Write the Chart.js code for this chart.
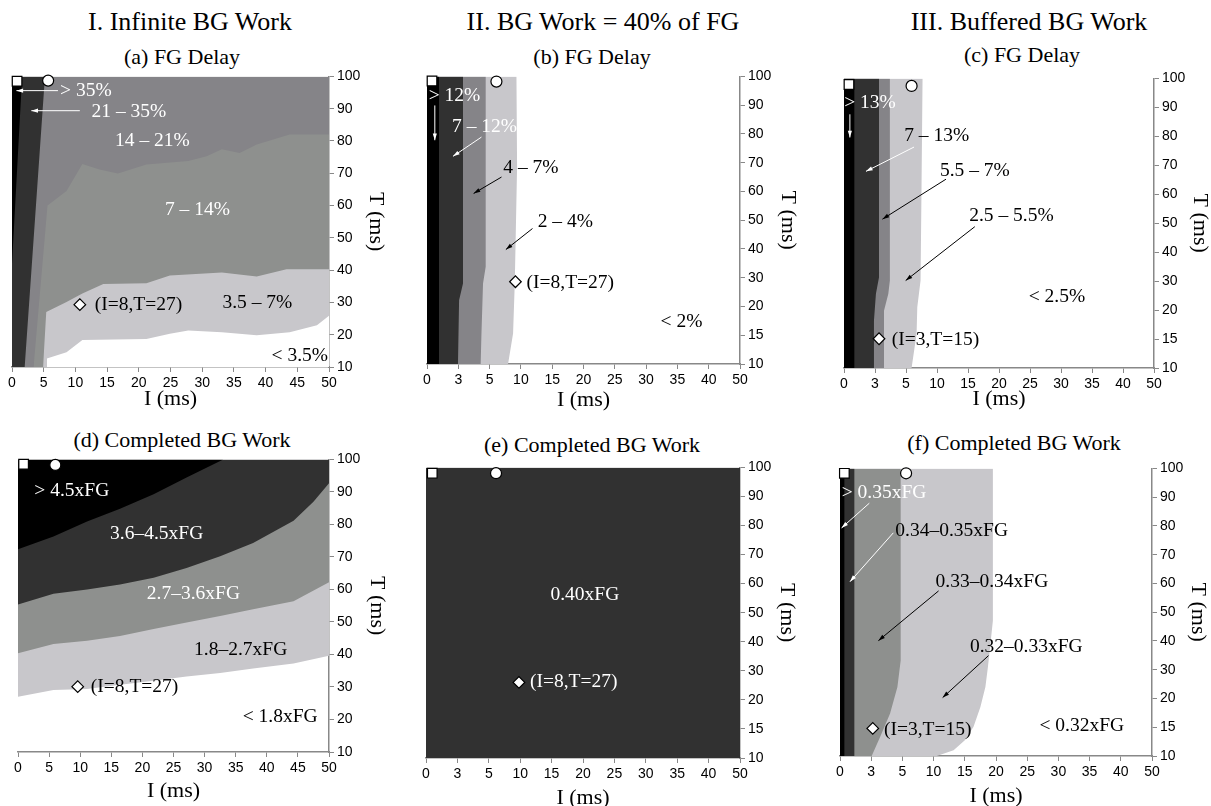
<!DOCTYPE html>
<html>
<head>
<meta charset="utf-8">
<script src="https://cdn.jsdelivr.net/npm/chart.js@4"></script>
<style>
body { margin: 0; width: 1211px; height: 806px; overflow: hidden; background: #fff; position: relative; font-family: "Liberation Serif", "Times New Roman", serif; }
.lbl { position: absolute; white-space: nowrap; transform: translate(-50%, -50%); line-height: 1; color: #000; }
.head { font-size: 26px; }
.sub { font-size: 22px; }
canvas { position: absolute; }
</style>
</head>
<body>
<div class="lbl head" style="left:190px;top:22px">I. Infinite BG Work</div>
<div class="lbl head" style="left:603px;top:22px">II. BG Work = 40% of FG</div>
<div class="lbl head" style="left:1029px;top:22px">III. Buffered BG Work</div>
<div class="lbl sub" style="left:182px;top:57px">(a) FG Delay</div>
<div class="lbl sub" style="left:592px;top:57px">(b) FG Delay</div>
<div class="lbl sub" style="left:1022px;top:55px">(c) FG Delay</div>
<div class="lbl sub" style="left:182px;top:440px">(d) Completed BG Work</div>
<div class="lbl sub" style="left:592px;top:445px">(e) Completed BG Work</div>
<div class="lbl sub" style="left:1014px;top:443px">(f) Completed BG Work</div>

<script>
// tick labels (axes are evenly spaced between these values)
const ticksI = [0, 5, 10, 15, 20, 25, 30, 35, 40, 45, 50];
const ticksT = [10, 20, 30, 40, 50, 60, 70, 80, 90, 100];
const ticksIb = [0, 3, 5, 10, 15, 20, 25, 30, 35, 40, 50];
const ticksTb = [10, 15, 20, 30, 40, 50, 60, 70, 80, 90, 100];

// contour boundaries, [I (ms), T (ms)]
// (a) FG delay, infinite BG work
const aBlack = [[0, 42], [1.6, 100]];            // > 35% (right edge)
const aDark = [[2.0, 10], [5.2, 100]];           // 21-35% (right edge)
const aWhite = [[5.5, 10], [5.5, 12.6], [8.6, 14.6], [11.1, 18.4], [21.2, 18.7], [24.9, 20.3], [27.8, 21.3], [33.1, 20.8], [38.6, 19.8], [43.8, 20.8], [48.1, 22.9], [50, 25.9]];
const aLight = [[4.9, 10], [5.4, 27], [8.6, 30.1], [11.1, 32.8], [14.4, 35.7], [21.2, 35.9], [24.9, 38.3], [33.1, 39.3], [38.6, 38.0], [43.3, 40.3], [50, 40.3]];
const aGreen = [[3.4, 10], [5.6, 60], [8.6, 64.5], [11.1, 72.9], [13.8, 71.2], [16.7, 69.9], [21.2, 72.7], [27.8, 73.8], [30.7, 75.3], [33.1, 77.4], [35.9, 76.3], [38.6, 78.9], [43.8, 82], [50, 82]];
const aFull = [[0, 100], [50, 100]];             // 14-21% everywhere else
const aPoints = [[0.8, 98.5], [5.7, 98.7], [10.7, 29.3]];

// (b) FG delay, BG work = 40% of FG
const bBlack = [[1.15, 10], [1.15, 100]];
const bDark = [[2.97, 10], [3.05, 22.2], [3.3, 28], [3.3, 100]];
const bMid = [[4.43, 10], [4.48, 15.3], [4.58, 28], [4.75, 33.8], [4.75, 100]];
const bLight = [[7.95, 10], [8.75, 15.3], [9.02, 28], [9.18, 45.4], [9.39, 68.5], [9.29, 100]];
const bPoints = [[0.48, 98.4], [6.09, 98.2], [9.13, 28.6]];

// (c) FG delay, buffered BG work
const cBlack = [[1.0, 10], [1.0, 100]];
const cDark = [[2.84, 10], [2.9, 18.2], [3.06, 25.6], [3.26, 31.3], [3.26, 100]];
const cMid = [[3.53, 10], [3.58, 19.9], [3.86, 25.6], [3.96, 30.2], [3.96, 100]];
const cLight = [[5.9, 10], [6.71, 15.9], [6.82, 21], [7.35, 30.2], [7.51, 63.5], [7.67, 100]];
const cPoints = [[0.48, 97.9], [5.9, 97.4], [3.26, 15.05]];

// (d) completed BG work, infinite BG work (lower edges)
const dBlack = [[0, 72.4], [5.7, 76.3], [11.1, 80.9], [16.4, 84.8], [21.8, 89.3], [27.1, 94.4], [33, 100]];
const dDark = [[0, 55.4], [5.7, 58.7], [11.1, 60], [16.4, 61.5], [21.8, 63.6], [27.1, 66.6], [32.5, 70.2], [37.8, 74.3], [44.3, 81.1], [47.5, 87], [50, 92.7]];
const dMid = [[0, 40.4], [5.7, 43.2], [11.1, 44.2], [16.4, 45.7], [21.8, 47.8], [27.1, 49.8], [32.5, 51.8], [37.8, 53.9], [44.3, 56.4], [50, 62.2]];
const dLight = [[0, 27], [5.7, 29.1], [11.1, 29.4], [16.4, 30.7], [21.8, 31.9], [27.1, 33.2], [32.5, 34.3], [37.8, 35.7], [44.3, 37.2], [50, 39.6]];
const dPoints = [[0.9, 98.5], [6.0, 98.3], [9.6, 30.1]];

// (e) completed BG work = 0.40xFG everywhere
const eFull = [[0, 100], [50, 100]];
const ePoints = [[0.6, 98], [6.15, 98], [9.8, 26]];

// (f) completed BG work, buffered
const fBlack = [[0.42, 10], [0.42, 100]];
const fDark = [[1.38, 10], [1.38, 100]];
const fMid = [[3.03, 10], [3.57, 13.3], [4.21, 17.4], [4.68, 24], [4.89, 33.2], [4.89, 100]];
const fLight = [[10.5, 10], [13.2, 11], [15.05, 12.8], [16.4, 15.1], [17.5, 18.5], [18.3, 24], [18.7, 30.9], [19.05, 37.8], [19.5, 47], [19.5, 100]];
const fPoints = [[0.42, 98.3], [5.59, 98.3], [3.1, 14.8]];

const BLACK = '#000000', DARK = '#313131', MID = '#858488', GREEN = '#8e908e', LIGHT = '#c8c7cb', WHITE = '#ffffff';

// value -> position along an axis whose ticks are evenly spaced
function pos(v, ticks) {
    for (let i = 0; i < ticks.length - 1; i++) {
        if (v <= ticks[i + 1]) return i + (v - ticks[i]) / (ticks[i + 1] - ticks[i]);
    }
    return ticks.length - 1;
}

// text labels and arrows, positions as fractions of the plot area
const notesPlugin = {
    id: 'notes',
    afterDatasetsDraw(chart, args, opts) {
        const { ctx, chartArea: a } = chart;
        const w = a.right - a.left, h = a.bottom - a.top;
        ctx.save();
        (opts.arrows || []).forEach(([x1, y1, x2, y2, c]) => {
            const X1 = a.left + x1 * w, Y1 = a.top + y1 * h;
            const X2 = a.left + x2 * w, Y2 = a.top + y2 * h;
            const ang = Math.atan2(Y2 - Y1, X2 - X1);
            ctx.strokeStyle = c;
            ctx.fillStyle = c;
            ctx.lineWidth = 1;
            ctx.beginPath();
            ctx.moveTo(X1, Y1);
            ctx.lineTo(X2, Y2);
            ctx.stroke();
            ctx.beginPath();
            ctx.moveTo(X2, Y2);
            ctx.lineTo(X2 - 7 * Math.cos(ang - 0.3), Y2 - 7 * Math.sin(ang - 0.3));
            ctx.lineTo(X2 - 7 * Math.cos(ang + 0.3), Y2 - 7 * Math.sin(ang + 0.3));
            ctx.closePath();
            ctx.fill();
        });
        ctx.font = '19.5px "Liberation Serif"';
        ctx.textBaseline = 'middle';
        (opts.texts || []).forEach(([t, x, y, c, al]) => {
            ctx.fillStyle = c;
            ctx.textAlign = al || 'center';
            ctx.fillText(t, a.left + x * w, a.top + y * h);
        });
        ctx.restore();
    }
};

function makePanel(p) {
    const padL = p.padL || 10, padT = 10;
    const cv = document.createElement('canvas');
    cv.width = padL + (p.r - p.l) + p.yw;
    cv.height = padT + (p.b - p.t) + p.xh;
    cv.style.left = (p.l - padL) + 'px';
    cv.style.top = (p.t - padT) + 'px';
    document.body.appendChild(cv);

    const px = v => pos(v, p.ti), py = v => pos(v, p.tt);
    const datasets = p.regions.map((r, k) => ({
        data: r.pts.map(([i, t]) => ({ x: px(i), y: py(t) })),
        indexAxis: r.vertical ? 'y' : 'x',
        fill: r.vertical ? { value: px(0) } : { value: r.up ? py(100) : py(10) },
        backgroundColor: r.color,
        borderColor: 'transparent',
        borderWidth: 0,
        pointRadius: 0,
        tension: 0,
        order: k + 1
    }));
    datasets.push({
        data: p.points.map(([i, t]) => ({ x: px(i), y: py(t) })),
        showLine: false,
        pointStyle: ['rect', 'circle', 'rectRot'],
        pointRadius: [6.8, 5.5, 5.8],
        pointBackgroundColor: '#fff',
        pointBorderColor: '#000',
        pointBorderWidth: 1.2,
        clip: false,
        order: 0
    });

    const tickFont = { family: 'Liberation Sans', size: 14 };
    const titleFont = { family: 'Liberation Serif', size: 22 };
    new Chart(cv, {
        type: 'line',
        data: { datasets },
        plugins: [notesPlugin],
        options: {
            responsive: false,
            animation: false,
            layout: { padding: { left: padL, top: padT, right: 0, bottom: 0 } },
            plugins: {
                legend: { display: false },
                tooltip: { enabled: false },
                notes: { texts: p.texts, arrows: p.arrows }
            },
            scales: {
                x: {
                    type: 'linear', min: 0, max: p.ti.length - 1,
                    afterFit: s => { s.height = p.xh; },
                    ticks: { stepSize: 1, autoSkip: false, maxRotation: 0, padding: 3, color: '#000', font: tickFont,
                        callback: v => p.ti[Math.round(v)] },
                    grid: { drawOnChartArea: false, tickLength: 5, color: '#888' },
                    border: { color: '#888', width: 1.5 },
                    title: { display: true, text: 'I (ms)', color: '#000', font: titleFont, padding: { top: 0, bottom: 1 } }
                },
                y: {
                    type: 'linear', position: 'right', min: 0, max: p.tt.length - 1,
                    afterFit: s => { s.width = p.yw; },
                    ticks: { stepSize: 1, autoSkip: false, padding: 3, color: '#000', font: tickFont,
                        callback: v => p.tt[Math.round(v)] },
                    grid: { drawOnChartArea: false, tickLength: 5, color: '#888' },
                    border: { color: '#888', width: 1.5 },
                    title: { display: true, text: 'T (ms)', color: '#000', font: titleFont, padding: { top: 2, bottom: 0 } }
                }
            }
        }
    });
}

makePanel({
    l: 12, t: 75, r: 329, b: 367, padL: 12, yw: 62, xh: 46, ti: ticksI, tt: ticksT,
    regions: [
        { pts: aBlack, color: BLACK, vertical: true },
        { pts: aDark, color: DARK, vertical: true },
        { pts: aWhite, color: WHITE },
        { pts: aLight, color: LIGHT },
        { pts: aGreen, color: GREEN },
        { pts: aFull, color: MID }
    ],
    points: aPoints,
    texts: [['> 35%', .233, .051, '#fff'], ['21 – 35%', .369, .122, '#fff'], ['14 – 21%', .443, .223, '#fff'],
        ['7 – 14%', .585, .461, '#fff'], ['(I=8,T=27)', .261, .785, '#000', 'left'], ['3.5 – 7%', .774, .781, '#000'],
        ['< 3.5%', .908, .963, '#000']],
    arrows: [[.145, .049, .014, .049, '#fff'], [.214, .118, .061, .118, '#fff']]
});

makePanel({
    l: 427, t: 75, r: 740, b: 364, yw: 63, xh: 50, ti: ticksIb, tt: ticksTb,
    regions: [
        { pts: bBlack, color: BLACK, vertical: true },
        { pts: bDark, color: DARK, vertical: true },
        { pts: bMid, color: MID, vertical: true },
        { pts: bLight, color: LIGHT, vertical: true }
    ],
    points: bPoints,
    texts: [['> 12%', .088, .069, '#fff'], ['7 – 12%', .184, .174, '#fff'], ['4 – 7%', .332, .317, '#000'],
        ['2 – 4%', .442, .506, '#000'], ['(I=8,T=27)', .318, .718, '#000', 'left'], ['< 2%', .813, .853, '#000']],
    arrows: [[.025, .101, .025, .222, '#fff'], [.174, .211, .083, .278, '#fff'],
        [.238, .350, .149, .407, '#000'], [.337, .529, .252, .602, '#000']]
});

makePanel({
    l: 844, t: 77, r: 1154, b: 368, yw: 61, xh: 45, ti: ticksIb, tt: ticksTb,
    regions: [
        { pts: cBlack, color: BLACK, vertical: true },
        { pts: cDark, color: DARK, vertical: true },
        { pts: cMid, color: MID, vertical: true },
        { pts: cLight, color: LIGHT, vertical: true }
    ],
    points: cPoints,
    texts: [['> 13%', .084, .084, '#fff'], ['7 – 13%', .299, .199, '#000'], ['5.5 – 7%', .422, .319, '#000'],
        ['2.5 – 5.5%', .540, .474, '#000'], ['< 2.5%', .687, .755, '#000'], ['(I=3,T=15)', .154, .902, '#000', 'left']],
    arrows: [[.019, .124, .019, .204, '#fff'], [.226, .237, .071, .321, '#fff'],
        [.329, .348, .124, .486, '#000'], [.422, .512, .199, .698, '#000']]
});

makePanel({
    l: 18, t: 458, r: 329, b: 752, padL: 12, yw: 63, xh: 53, ti: ticksI, tt: ticksT,
    regions: [
        { pts: dBlack, color: BLACK, up: true },
        { pts: dDark, color: DARK, up: true },
        { pts: dMid, color: GREEN, up: true },
        { pts: dLight, color: LIGHT, up: true }
    ],
    points: dPoints,
    texts: [['> 4.5xFG', .173, .108, '#fff'], ['3.6–4.5xFG', .446, .254, '#fff'], ['2.7–3.6xFG', .564, .459, '#fff'],
        ['1.8–2.7xFG', .716, .652, '#000'], ['(I=8,T=27)', .234, .779, '#000', 'left'], ['< 1.8xFG', .843, .881, '#000']],
    arrows: []
});

makePanel({
    l: 426, t: 466, r: 740, b: 758, yw: 62, xh: 54, ti: ticksIb, tt: ticksTb,
    regions: [{ pts: eFull, color: DARK }],
    points: ePoints,
    texts: [['0.40xFG', .506, .440, '#fff'], ['(I=8,T=27)', .331, .739, '#fff', 'left']],
    arrows: []
});

makePanel({
    l: 840, t: 467, r: 1152, b: 756, yw: 61, xh: 54, ti: ticksIb, tt: ticksTb,
    regions: [
        { pts: fBlack, color: BLACK, vertical: true },
        { pts: fDark, color: DARK, vertical: true },
        { pts: fMid, color: GREEN, vertical: true },
        { pts: fLight, color: LIGHT, vertical: true }
    ],
    points: fPoints,
    texts: [['> 0.35xFG', .141, .086, '#fff'], ['0.34–0.35xFG', .358, .217, '#000'], ['0.33–0.34xFG', .487, .395, '#000'],
        ['0.32–0.33xFG', .597, .622, '#000'], ['< 0.32xFG', .775, .896, '#000'], ['(I=3,T=15)', .141, .908, '#000', 'left']],
    arrows: [[.094, .121, .005, .207, '#fff'], [.171, .224, .032, .394, '#fff'],
        [.316, .426, .123, .599, '#000'], [.476, .651, .329, .797, '#000']]
});
</script>
</body>
</html>
